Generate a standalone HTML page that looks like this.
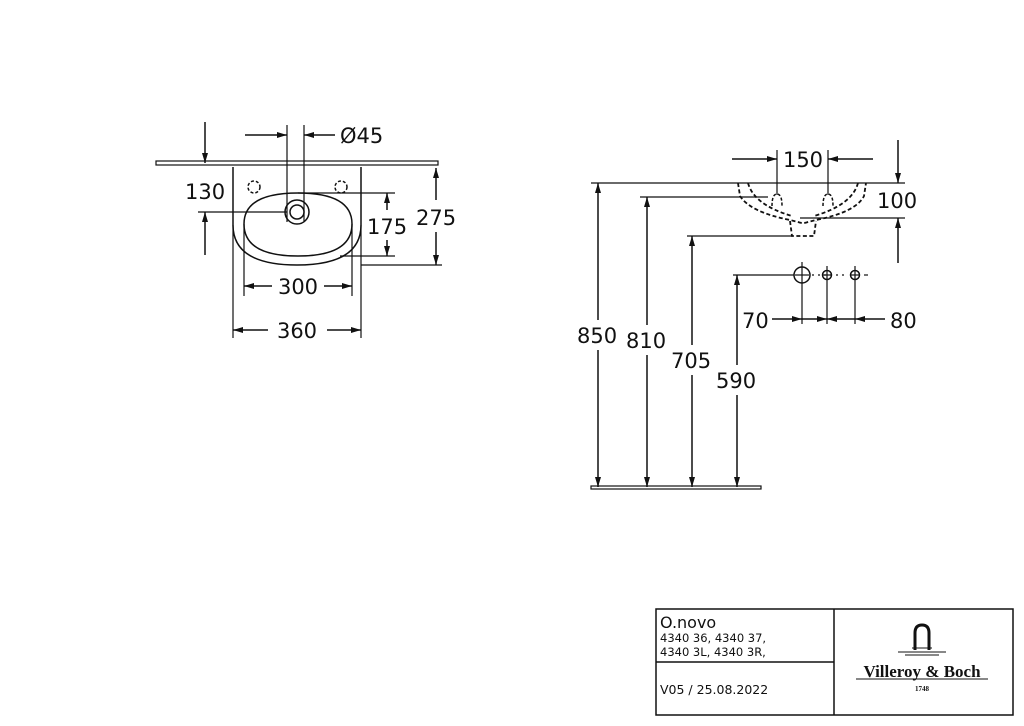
<!DOCTYPE html>
<html><head><meta charset="utf-8"><style>
html,body{margin:0;padding:0;background:#fff;}
svg{display:block;}
text{font-family:"DejaVu Sans","Liberation Sans",sans-serif;fill:#111;}
</style></head><body>
<svg width="1024" height="726" viewBox="0 0 1024 726" xmlns="http://www.w3.org/2000/svg">
<defs>
<marker id="a" viewBox="0 0 10 6" refX="10" refY="3" markerWidth="11" markerHeight="6" markerUnits="userSpaceOnUse" orient="auto"><path d="M0,0 L10,3 L0,6 z" fill="#111"/></marker>
</defs>
<g stroke="#111" fill="none" stroke-width="1.5">
<rect x="156" y="161" width="282" height="4" stroke-width="1.2"/>
<path d="M233,167 L233,225 Q233,265 297,265 Q361,265 361,225 L361,167"/>
<path d="M244,224 Q244,193 298,193 Q352,193 352,224 Q352,256 298,256 Q244,256 244,224 z"/>
<circle cx="297" cy="212" r="12"/>
<circle cx="297" cy="212" r="7"/>
<circle cx="254" cy="187" r="6" stroke-dasharray="3,2"/>
<circle cx="341" cy="187" r="6" stroke-dasharray="3,2"/>
<line x1="287" y1="125" x2="287" y2="222" stroke-width="1.2"/>
<line x1="304" y1="125" x2="304" y2="222" stroke-width="1.2"/>
<line x1="245" y1="135" x2="287" y2="135" marker-end="url(#a)"/>
<line x1="335" y1="135" x2="304" y2="135" marker-end="url(#a)"/>
<line x1="205" y1="122" x2="205" y2="163" marker-end="url(#a)"/>
<line x1="205" y1="255" x2="205" y2="212" marker-end="url(#a)"/>
<line x1="198" y1="212" x2="287" y2="212" stroke-width="1.2"/>
<line x1="298" y1="193" x2="395" y2="193" stroke-width="1.2"/>
<line x1="340" y1="256" x2="395" y2="256" stroke-width="1.2"/>
<line x1="387" y1="210" x2="387" y2="193" marker-end="url(#a)"/>
<line x1="387" y1="240" x2="387" y2="256" marker-end="url(#a)"/>
<line x1="361" y1="265" x2="442" y2="265" stroke-width="1.2"/>
<line x1="436" y1="200" x2="436" y2="168" marker-end="url(#a)"/>
<line x1="436" y1="232" x2="436" y2="265" marker-end="url(#a)"/>
<line x1="244" y1="224" x2="244" y2="296" stroke-width="1.2"/>
<line x1="352" y1="224" x2="352" y2="296" stroke-width="1.2"/>
<line x1="272" y1="286" x2="244" y2="286" marker-end="url(#a)"/>
<line x1="324" y1="286" x2="352" y2="286" marker-end="url(#a)"/>
<line x1="233" y1="225" x2="233" y2="338" stroke-width="1.2"/>
<line x1="361" y1="225" x2="361" y2="338" stroke-width="1.2"/>
<line x1="268" y1="330" x2="233" y2="330" marker-end="url(#a)"/>
<line x1="327" y1="330" x2="361" y2="330" marker-end="url(#a)"/>

<line x1="591" y1="183" x2="905" y2="183" stroke-width="1.2"/>
<path d="M738,183 L740,196 Q750,212 790,220 L798,222 Q803,224 808,222 L816,220 Q856,212 864,196 L866,183" stroke-dasharray="4,2.5" stroke-width="1.8"/>
<path d="M748,183 Q754,205 792,216 M858,183 Q852,205 814,216" stroke-dasharray="4,2.5" stroke-width="1.8"/>
<path d="M790,221 L792,236 L814,236 L816,221" stroke-dasharray="4,2.5" stroke-width="1.8"/>
<path d="M772,206 Q772,194 777,194 Q782,194 782,206 M823,206 Q823,194 828,194 Q833,194 833,206" stroke-dasharray="3,2"/>
<line x1="777" y1="150" x2="777" y2="195" stroke-width="1.2"/>
<line x1="828" y1="150" x2="828" y2="195" stroke-width="1.2"/>
<line x1="732" y1="159" x2="777" y2="159" marker-end="url(#a)"/>
<line x1="873" y1="159" x2="828" y2="159" marker-end="url(#a)"/>
<line x1="898" y1="140" x2="898" y2="183" marker-end="url(#a)"/>
<line x1="898" y1="263" x2="898" y2="218" marker-end="url(#a)"/>
<line x1="800" y1="218" x2="905" y2="218" stroke-width="1.2"/>
<line x1="640" y1="197" x2="768" y2="197" stroke-width="1.2"/>
<line x1="687" y1="236" x2="792" y2="236" stroke-width="1.2"/>
<line x1="733" y1="275" x2="794" y2="275" stroke-width="1.2"/>
<line x1="598" y1="320" x2="598" y2="183" marker-end="url(#a)"/>
<line x1="598" y1="350" x2="598" y2="487" marker-end="url(#a)"/>
<line x1="647" y1="325" x2="647" y2="197" marker-end="url(#a)"/>
<line x1="647" y1="355" x2="647" y2="487" marker-end="url(#a)"/>
<line x1="692" y1="345" x2="692" y2="236" marker-end="url(#a)"/>
<line x1="692" y1="375" x2="692" y2="487" marker-end="url(#a)"/>
<line x1="737" y1="365" x2="737" y2="275" marker-end="url(#a)"/>
<line x1="737" y1="395" x2="737" y2="487" marker-end="url(#a)"/>
<rect x="591" y="486" width="170" height="3" stroke-width="1.2"/>
<circle cx="802" cy="275" r="8"/>
<line x1="802" y1="262" x2="802" y2="324" stroke-width="1.2"/>
<line x1="795" y1="275" x2="809" y2="275" stroke-width="1.2"/>
<circle cx="827" cy="275" r="4.5"/>
<line x1="827" y1="266" x2="827" y2="324" stroke-width="1.2"/>
<line x1="822" y1="275" x2="832" y2="275" stroke-width="1.2"/>
<circle cx="855" cy="275" r="4.5"/>
<line x1="855" y1="266" x2="855" y2="324" stroke-width="1.2"/>
<line x1="850" y1="275" x2="860" y2="275" stroke-width="1.2"/>
<line x1="812" y1="275" x2="846" y2="275" stroke-dasharray="2,4" stroke-width="1.2"/>
<line x1="864" y1="275" x2="868" y2="275" stroke-width="1.2"/>
<line x1="772" y1="319" x2="802" y2="319" marker-end="url(#a)"/>
<line x1="802" y1="319" x2="827" y2="319" marker-end="url(#a)"/>
<line x1="855" y1="319" x2="827" y2="319" marker-end="url(#a)"/>
<line x1="885" y1="319" x2="855" y2="319" marker-end="url(#a)"/>

<rect x="656" y="609" width="357" height="106" stroke-width="1.5"/>
<line x1="834" y1="609" x2="834" y2="715"/>
<line x1="656" y1="662" x2="834" y2="662"/>
<path d="M915,650 L915,633 Q915,625 922,625 Q929,625 929,633 L929,650" stroke-width="3"/>
<line x1="898" y1="652" x2="946" y2="652" stroke-width="1"/>
<line x1="905" y1="655" x2="939" y2="655" stroke-width="1"/>
<line x1="912" y1="648" x2="932" y2="648" stroke-width="1"/>
<line x1="856" y1="679" x2="988" y2="679" stroke-width="1"/>
</g>
<g font-size="21">
<text x="340" y="143">Ø45</text>
<text x="185" y="199">130</text>
<text x="367" y="234">175</text>
<text x="416" y="225">275</text>
<text x="298" y="294" text-anchor="middle">300</text>
<text x="297" y="338" text-anchor="middle">360</text>
<text x="803" y="167" text-anchor="middle">150</text>
<text x="877" y="208">100</text>
<text x="577" y="343">850</text>
<text x="626" y="348">810</text>
<text x="671" y="368">705</text>
<text x="716" y="388">590</text>
<text x="742" y="328">70</text>
<text x="890" y="328">80</text>
</g>
<text x="660" y="628" font-size="16">O.novo</text>
<text x="660" y="642" font-size="11.5">4340 36, 4340 37,</text>
<text x="660" y="656" font-size="11.5">4340 3L, 4340 3R,</text>
<text x="660" y="694" font-size="12.5">V05 / 25.08.2022</text>
<text x="922" y="677" font-size="17" text-anchor="middle" style="font-family:'Liberation Serif',serif;font-weight:bold">Villeroy &amp; Boch</text>
<text x="922" y="691" font-size="7" text-anchor="middle" style="font-family:'Liberation Serif',serif;font-weight:bold">1748</text>
</svg>
</body></html>
